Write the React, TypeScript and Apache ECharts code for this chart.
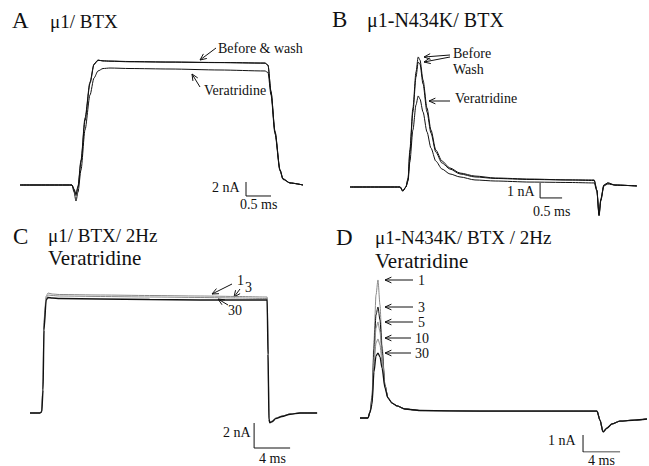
import React, { useEffect, useRef } from "react";
import * as echarts from "echarts";

// ---------- Panel A: μ1 / BTX (time ms, current nA) ----------
const timeA = [0, 1.04, 1.08, 1.12, 1.16, 1.22, 1.3, 1.4, 1.48, 1.56, 1.66, 1.8, 2.2, 3.0, 4.0, 4.9, 4.96, 5.02, 5.1, 5.2, 5.26, 5.4, 5.66];
const beforeA = [0, 0, -0.57, -1.29, -0.14, 3.57, 9.57, 14.71, 17.29, 17.86, 17.71, 17.71, 17.64, 17.57, 17.5, 17.43, 17.14, 13.29, 7.57, 2.14, 0.86, 0.29, 0];
const washA = [0, 0, -0.7, -1.5, -0.3, 3.3, 9.2, 14.5, 17.2, 17.8, 17.75, 17.68, 17.6, 17.55, 17.48, 17.4, 17.1, 13.4, 7.7, 2.2, 0.9, 0.3, 0];
const veratridineA = [0, 0, -1, -2.29, -1, 2.14, 7.86, 12.86, 15.29, 16.29, 16.64, 16.71, 16.64, 16.57, 16.43, 16.29, 16.07, 12.86, 7.29, 2, 0.79, 0.29, 0];

// ---------- Panel B: μ1-N434K / BTX ----------
const timeB = [0, 1.14, 1.2, 1.27, 1.32, 1.36, 1.43, 1.5, 1.55, 1.59, 1.66, 1.75, 1.84, 1.95, 2.09, 2.27, 2.5, 2.84, 3.3, 4.09, 5.0, 5.55, 5.61, 5.66, 5.7, 5.77, 5.86, 6.02, 6.52];
const beforeB = [0, 0, -0.27, 0, 0.6, 2.47, 5.27, 7.67, 8.67, 8.47, 7.13, 5.27, 3.8, 2.47, 1.73, 1.27, 0.93, 0.73, 0.6, 0.53, 0.47, 0.47, -0.2, -1.87, -0.87, 0.13, 0.27, 0.13, 0.07];
const washB = [0, 0, -0.27, 0, 0.53, 2.27, 5, 7.33, 8.33, 8.2, 6.87, 5, 3.6, 2.33, 1.6, 1.2, 0.87, 0.67, 0.57, 0.5, 0.47, 0.43, -0.2, -1.8, -0.8, 0.13, 0.27, 0.13, 0.07];
const veratridineB = [0, 0, -0.27, 0, 0.4, 1.67, 3.8, 5.47, 6.07, 5.87, 5, 3.67, 2.6, 1.73, 1.2, 0.87, 0.67, 0.47, 0.4, 0.33, 0.3, 0.27, -0.27, -1.93, -0.93, 0.07, 0.2, 0.13, 0.07];

// ---------- Panel C: μ1 / BTX / 2Hz, Veratridine ----------
const timeC = [0, 1.1, 1.3, 1.45, 1.55, 1.8, 2.0, 2.45, 3.3, 7.8, 13.3, 18.9, 23.3, 26.1, 26.35, 26.45, 26.55, 26.65, 26.9, 27.3, 28.0, 28.9, 30.0, 31.9];
const pulse1C = [0, 0, 0.16, 2.64, 7.44, 9.36, 9.6, 9.52, 9.48, 9.44, 9.4, 9.36, 9.32, 9.28, 9.28, 5.04, -0.4, -0.72, -0.64, -0.4, -0.24, -0.08, 0, 0];
const pulse3C = [0, 0, 0.16, 2.3, 7.0, 9.2, 9.44, 9.4, 9.36, 9.32, 9.28, 9.24, 9.2, 9.16, 9.16, 4.9, -0.45, -0.75, -0.66, -0.42, -0.25, -0.08, 0, 0];
const pulse30C = [0, 0, 0.08, 1.84, 6.64, 9.04, 9.24, 9.2, 9.16, 9.12, 9.08, 9.04, 9.04, 9.04, 9.04, 4.7, -0.5, -0.78, -0.7, -0.45, -0.28, -0.1, 0, 0];

// ---------- Panel D: μ1-N434K / BTX / 2Hz, Veratridine ----------
const timeD = [0, 0.86, 1.08, 1.3, 1.51, 1.73, 1.94, 2.16, 2.38, 2.7, 3.02, 3.46, 4.0, 4.86, 6.48, 12.96, 21.6, 25.6, 25.92, 26.25, 26.68, 27.22, 28.08, 29.7, 31.0];
const pulse1D = [0, 0, 0.35, 1.35, 4.59, 7.24, 8.12, 6.65, 4.29, 1.94, 1.18, 0.88, 0.71, 0.53, 0.44, 0.41, 0.41, 0.41, -0.12, -0.82, -0.59, -0.35, -0.18, -0.12, -0.06];
const pulse3D = [0, 0, 0.35, 1.18, 4.0, 6.06, 6.53, 5.76, 4.0, 1.94, 1.18, 0.88, 0.71, 0.53, 0.44, 0.41, 0.41, 0.41, -0.12, -0.82, -0.59, -0.35, -0.18, -0.12, -0.06];
const pulse5D = [0, 0, 0.35, 1.06, 3.53, 5.29, 5.65, 5.06, 3.71, 1.9, 1.18, 0.88, 0.71, 0.53, 0.44, 0.41, 0.41, 0.41, -0.12, -0.82, -0.59, -0.35, -0.18, -0.12, -0.06];
const pulse10D = [0, 0, 0.35, 0.94, 3.12, 4.41, 4.65, 4.29, 3.29, 1.85, 1.18, 0.88, 0.71, 0.53, 0.44, 0.41, 0.41, 0.41, -0.12, -0.82, -0.59, -0.35, -0.18, -0.12, -0.06];
const pulse30D = [0, 0, 0.35, 0.82, 2.71, 3.65, 3.82, 3.59, 2.94, 1.76, 1.18, 0.88, 0.71, 0.53, 0.44, 0.41, 0.41, 0.41, -0.12, -0.82, -0.59, -0.35, -0.18, -0.12, -0.06];

// ---------- Scale bars (origin corner t, v; lengths dt ms, dv nA) ----------
const scaleA = { t: 4.52, v: -1.57, dt: 0.5, dv: 2 };
const scaleB = { t: 4.32, v: -0.73, dt: 0.5, dv: 1 };
const scaleC = { t: 24.9, v: -2.8, dt: 4, dv: 2 };
const scaleD = { t: 24.09, v: -2, dt: 4, dv: 1 };

const FONT = "Liberation Serif";
const INK = "#111";
const GREY = "#8a8a8a";

function zip(t: number[], v: number[]) {
  return t.map((x, i) => [x, v[i]]);
}

function trace(idx: number, t: number[], v: number[], color = INK, width = 1) {
  return {
    type: "line",
    xAxisIndex: idx,
    yAxisIndex: idx,
    data: zip(t, v),
    symbol: "none",
    smooth: 0.25,
    smoothMonotone: "x",
    lineStyle: { color, width },
    silent: true,
  };
}

function scaleBar(idx: number, s: { t: number; v: number; dt: number; dv: number }) {
  return {
    type: "line",
    xAxisIndex: idx,
    yAxisIndex: idx,
    data: [
      [s.t, s.v + s.dv],
      [s.t, s.v],
      [s.t + s.dt, s.v],
    ],
    symbol: "none",
    lineStyle: { color: INK, width: 1 },
    silent: true,
  };
}

function txt(text: string, x: number, y: number, size: number) {
  return {
    type: "text",
    x,
    y,
    style: {
      text,
      fontFamily: FONT,
      fontSize: size,
      fill: INK,
      textAlign: "left",
      textVerticalAlign: "middle",
    },
    silent: true,
  };
}

function arrow(x1: number, y1: number, x2: number, y2: number) {
  const ang = Math.atan2(y2 - y1, x2 - x1);
  const L = 7;
  const a = 0.42;
  const p1 = [x2 - L * Math.cos(ang - a), y2 - L * Math.sin(ang - a)];
  const p2 = [x2 - L * Math.cos(ang + a), y2 - L * Math.sin(ang + a)];
  return [
    { type: "line", shape: { x1, y1, x2, y2 }, style: { stroke: INK, lineWidth: 1 }, silent: true },
    { type: "polyline", shape: { points: [p1, [x2, y2], p2] }, style: { stroke: INK, lineWidth: 1, fill: null }, silent: true },
  ];
}

export default function App() {
  const ref = useRef<HTMLDivElement>(null);
  useEffect(() => {
    if (!ref.current) return;
    const chart = echarts.init(ref.current, null, { renderer: "svg" });
    const grids = [
      { left: 20, top: 45, width: 290, height: 175 },
      { left: 350, top: 40, width: 297, height: 180 },
      { left: 30, top: 263, width: 297, height: 187.5 },
      { left: 360, top: 248, width: 287, height: 204 },
    ];
    const xr = [
      [0, 5.8],
      [0, 6.75],
      [0, 33],
      [0, 31],
    ];
    const yr = [
      [-5, 20],
      [-2.2, 9.8],
      [-3, 12],
      [-2, 10],
    ];
    const option: any = {
      animation: false,
      backgroundColor: "#ffffff",
      textStyle: { fontFamily: FONT },
      grid: grids,
      xAxis: xr.map((r, i) => ({ type: "value", gridIndex: i, min: r[0], max: r[1], show: false })),
      yAxis: yr.map((r, i) => ({ type: "value", gridIndex: i, min: r[0], max: r[1], show: false })),
      series: [
        trace(0, timeA, veratridineA),
        trace(0, timeA, washA),
        trace(0, timeA, beforeA),
        scaleBar(0, scaleA),
        trace(1, timeB, veratridineB),
        trace(1, timeB, washB),
        trace(1, timeB, beforeB),
        scaleBar(1, scaleB),
        trace(2, timeC, pulse1C, GREY),
        trace(2, timeC, pulse3C, GREY),
        trace(2, timeC, pulse30C, INK, 1.4),
        scaleBar(2, scaleC),
        trace(3, timeD, pulse1D, GREY),
        trace(3, timeD, pulse3D, INK),
        trace(3, timeD, pulse5D, GREY),
        trace(3, timeD, pulse10D, GREY),
        trace(3, timeD, pulse30D, INK, 1.3),
        scaleBar(3, scaleD),
      ],
      graphic: [
        // Panel titles
        txt("A", 12, 20, 23),
        txt("μ1/ BTX", 50, 21, 19),
        txt("B", 332, 19, 23),
        txt("μ1-N434K/ BTX", 367, 20, 20),
        txt("C", 13, 236, 23),
        txt("μ1/ BTX/ 2Hz", 48, 235, 19),
        txt("Veratridine", 48, 258, 21),
        txt("D", 336, 237, 23),
        txt("μ1-N434K/ BTX / 2Hz", 375, 237, 19),
        txt("Veratridine", 375, 261, 21),
        // Panel A annotations
        txt("Before & wash", 218, 48, 14),
        ...arrow(216, 48, 200, 60),
        txt("Veratridine", 204, 90, 14),
        ...arrow(200, 87, 192, 74),
        txt("2 nA", 212, 187, 14),
        txt("0.5 ms", 240, 204, 14),
        // Panel B annotations
        txt("Before", 453, 53, 14),
        txt("Wash", 453, 69, 14),
        ...arrow(450, 55, 424, 57),
        ...arrow(450, 57, 424, 62),
        txt("Veratridine", 455, 98, 14),
        ...arrow(450, 101, 429, 101),
        txt("1 nA", 507, 191, 14),
        txt("0.5 ms", 533, 211, 14),
        // Panel C annotations
        txt("1", 237, 280, 14),
        ...arrow(232, 284, 212, 294),
        txt("3", 245, 287, 14),
        ...arrow(240, 289, 234, 297),
        txt("30", 228, 310, 14),
        ...arrow(228, 305, 218, 299),
        txt("2 nA", 223, 432, 14),
        txt("4 ms", 259, 458, 14),
        // Panel D annotations
        txt("1", 418, 280, 14),
        ...arrow(413, 280, 385, 280),
        txt("3", 418, 307, 14),
        ...arrow(413, 307, 385, 307),
        txt("5", 418, 322, 14),
        ...arrow(413, 322, 385, 322),
        txt("10", 415, 338, 14),
        ...arrow(411, 338, 385, 338),
        txt("30", 415, 353, 14),
        ...arrow(411, 353, 385, 353),
        txt("1 nA", 548, 440, 14),
        txt("4 ms", 588, 460, 14),
      ],
    };
    chart.setOption(option);
    return () => chart.dispose();
  }, []);
  return (
    <div
      ref={ref}
      style={{ position: "fixed", left: 0, top: 0, width: 649, height: 466, background: "#fff" }}
    />
  );
}
